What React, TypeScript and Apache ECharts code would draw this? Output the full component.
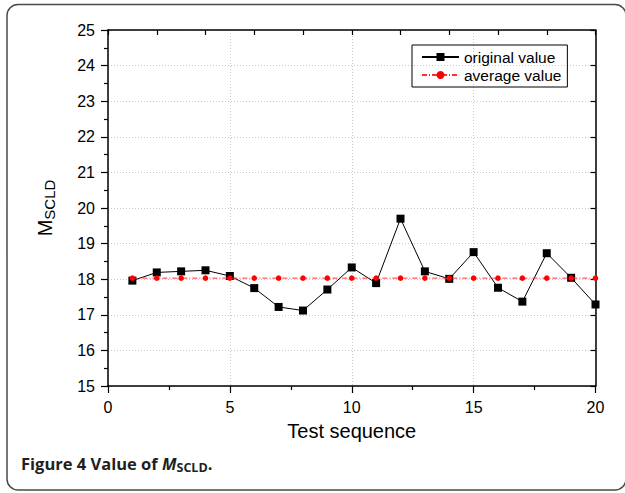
import React, { useEffect, useRef } from "react";
import * as echarts from "echarts";

const testSequence = [1, 2, 3, 4, 5, 6, 7, 8, 9, 10, 11, 12, 13, 14, 15, 16, 17, 18, 19, 20];
const originalValues = [
  17.96, 18.19, 18.22, 18.25, 18.09, 17.75, 17.22, 17.12, 17.71, 18.33,
  17.89, 19.7, 18.22, 18.01, 18.76, 17.76, 17.37, 18.73, 18.04, 17.29,
];
const averageValues = [
  18.03, 18.03, 18.03, 18.03, 18.03, 18.03, 18.03, 18.03, 18.03, 18.03,
  18.03, 18.03, 18.03, 18.03, 18.03, 18.03, 18.03, 18.03, 18.03, 18.03,
];
const seriesNames = ["original value", "average value"];

const FONT = "'Liberation Sans', Arial, sans-serif";

export default function App() {
  const ref = useRef<HTMLDivElement>(null);
  useEffect(() => {
    if (!ref.current) return;
    const chart = echarts.init(ref.current, undefined, { renderer: "svg" });
    const axisLine = { show: true, onZero: false, lineStyle: { color: "#000", width: 1.5 } };
    chart.setOption({
      animation: false,
      backgroundColor: "#fff",
      textStyle: { fontFamily: FONT },
      grid: { left: 108, right: 29.5, top: 30, bottom: 107, containLabel: false },
      legend: {
        data: seriesNames,
        orient: "vertical",
        left: 412,
        top: 45,
        padding: [4, 6, 4, 9],
        itemGap: 2,
        itemWidth: 37,
        itemHeight: 10,
        borderColor: "#000",
        borderWidth: 1,
        borderRadius: 0,
        textStyle: { fontSize: 15.5, color: "#000", fontFamily: FONT, lineHeight: 16 },
      },
      xAxis: [
        {
          type: "value",
          position: "bottom",
          min: 0,
          max: 20,
          interval: 5,
          name: "Test sequence",
          nameLocation: "middle",
          nameGap: 35,
          nameTextStyle: { fontSize: 20, color: "#000", fontFamily: FONT },
          axisLine,
          axisTick: { show: true, inside: false, length: 7, lineStyle: { color: "#000", width: 1.2 } },
          minorTick: { show: true, splitNumber: 2, length: 4, lineStyle: { color: "#000", width: 1.2 } },
          axisLabel: { fontSize: 16, color: "#000", margin: 13, fontFamily: FONT },
          splitLine: { show: true, lineStyle: { color: "#c8c8c8", type: [1, 2], width: 1 } },
        },
        {
          type: "value",
          position: "top",
          min: 0,
          max: 20,
          interval: 2,
          axisLine,
          axisTick: { show: true, inside: true, length: 5, lineStyle: { color: "#000", width: 1.2 } },
          axisLabel: { show: false },
          splitLine: { show: false },
        },
      ],
      yAxis: [
        {
          type: "value",
          position: "left",
          min: 15,
          max: 25,
          interval: 1,
          name: "{m|M}{s|SCLD}",
          nameLocation: "middle",
          nameRotate: 90,
          nameGap: 51,
          nameTextStyle: {
            color: "#000",
            fontFamily: FONT,
            rich: {
              m: { fontSize: 20, fontFamily: FONT, color: "#000", lineHeight: 24 },
              s: { fontSize: 15, fontFamily: FONT, color: "#000", lineHeight: 15, verticalAlign: "bottom" },
            },
          },
          axisLine,
          axisTick: { show: true, inside: false, length: 7, lineStyle: { color: "#000", width: 1.2 } },
          minorTick: { show: true, splitNumber: 2, length: 4, lineStyle: { color: "#000", width: 1.2 } },
          axisLabel: { fontSize: 16, color: "#000", margin: 13, fontFamily: FONT },
          splitLine: { show: true, lineStyle: { color: "#c8c8c8", type: [1, 2], width: 1 } },
        },
        {
          type: "value",
          position: "right",
          min: 15,
          max: 25,
          interval: 1,
          axisLine,
          axisTick: { show: true, inside: true, length: 5, lineStyle: { color: "#000", width: 1.2 } },
          axisLabel: { show: false },
          splitLine: { show: false },
        },
      ],
      series: [
        {
          name: seriesNames[0],
          type: "line",
          xAxisIndex: 0,
          yAxisIndex: 0,
          data: testSequence.map((x, i) => [x, originalValues[i]]),
          symbol: "rect",
          symbolSize: 8,
          clip: false,
          itemStyle: { color: "#000" },
          lineStyle: { color: "#000", width: 1 },
          z: 3,
        },
        {
          name: seriesNames[1],
          type: "line",
          xAxisIndex: 0,
          yAxisIndex: 0,
          data: testSequence.map((x, i) => [x, averageValues[i]]),
          symbol: "circle",
          symbolSize: 5.5,
          clip: false,
          itemStyle: { color: "#ff0000" },
          lineStyle: { color: "#ff3030", width: 1, type: [5, 2, 1, 2] },
          z: 4,
        },
      ],
      graphic: [
        {
          type: "rect",
          shape: { x: 7, y: 4.5, width: 619, height: 485.5, r: 11 },
          style: { fill: "none", stroke: "#4a4a4a", lineWidth: 1.5 },
          silent: true,
          z: -1,
        },
        {
          type: "text",
          left: 21,
          top: 455,
          style: {
            text: "{b|Figure 4 Value of }{i|M}{s|SCLD}{b|.}",
            rich: {
              b: { fontFamily: "'Open Sans', sans-serif", fontWeight: "bold", fontSize: 16.5, lineHeight: 20, fill: "#231f20" },
              i: { fontFamily: "'Open Sans', sans-serif", fontWeight: "bold", fontStyle: "italic", fontSize: 16.5, lineHeight: 20, fill: "#231f20" },
              s: { fontFamily: "'Open Sans', sans-serif", fontWeight: "bold", fontSize: 12.5, lineHeight: 12, verticalAlign: "bottom", fill: "#231f20" },
            },
          },
        },
      ],
    });
    return () => chart.dispose();
  }, []);
  return (
    <div
      ref={ref}
      style={{ position: "fixed", left: 0, top: 0, width: 625, height: 493 }}
    />
  );
}
